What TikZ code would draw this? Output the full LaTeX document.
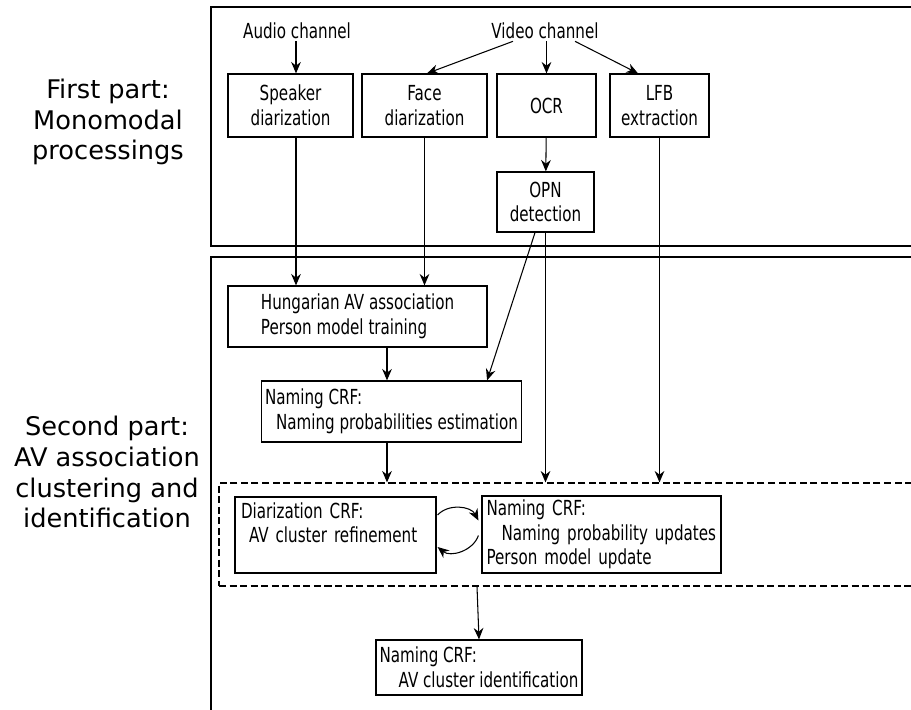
\documentclass[tikz,border=0pt]{standalone}
\usepackage{fontspec}
\setmainfont{DejaVu Sans}
\newfontfamily\narrowfont[FakeStretch=0.73]{DejaVu Sans}
\usetikzlibrary{arrows.meta, calc}
\begin{document}
\begin{tikzpicture}[x = 0.02cm, y = -0.02cm,
		>={Stealth[length=6.5pt, width=5.5pt]},
		every path/.style = {line width=0.6pt},
		box/.style = {draw, line width=0.7pt, inner sep=2pt, font=\narrowfont\fontsize{11.8}{14}\selectfont},
		chan/.style = {inner sep=1pt, font=\narrowfont\fontsize{11.8}{14}\selectfont},
		part/.style = {align=center, font=\fontsize{14.6}{17.6}\selectfont},
		frame/.style = {draw, line width=1.1pt}]
		\useasboundingbox (0, 0) rectangle (911, 709);
		\draw[frame] (211, 7) rectangle (920, 246);
		\draw[frame] (211, 257) rectangle (920, 730);
		\node[part] (first) at (108, 122) {First part:\\Monomodal\\processings};
		\node[part] (second) at (107, 472) {Second part:\\AV association\\clustering and\\identification};
		\node[chan] (audio) at (297, 31) {Audio channel};
		\node[chan] (video) at (545, 31) {Video channel};
		\node[box, align=center, minimum width=2.5cm, minimum height=1.26cm] (spk) at (290.5, 105.5) {Speaker\\diarization};
		\node[box, align=center, minimum width=2.5cm, minimum height=1.26cm] (face) at (424.5, 105.5) {Face\\diarization};
		\node[box, align=center, minimum width=1.98cm, minimum height=1.26cm] (ocr) at (546.5, 105.5) {OCR};
		\node[box, align=center, minimum width=1.98cm, minimum height=1.26cm] (lfb) at (659.5, 105.5) {LFB\\extraction};
		\node[box, align=center, minimum width=1.94cm, minimum height=1.2cm] (opn) at (545.5, 202) {OPN\\detection};
		\node[box, align=left, minimum width=5.18cm, minimum height=1.22cm] (hung) at (357.5, 316.5) {Hungarian AV association\\Person model training};
		\node[box, align=left, minimum width=5.18cm, minimum height=1.22cm] (nest) at (391.5, 411.5) {Naming CRF:\\\hspace*{0.22cm}Naming probabilities estimation};
		\node[draw, dashed, dash pattern=on 4pt off 2pt, line width=0.7pt, minimum width=14.02cm, minimum height=2.06cm] (loop) at (569.5, 534.5) {};
		\node[box, align=left, text width=3.78cm, inner xsep=0.12cm, minimum width=4.02cm, minimum height=1.52cm] (dcrf) at (335.5, 535) {Diarization CRF:\\\hspace*{0.16cm}AV cluster refinement\\\mbox{}};
		\node[box, align=left, text width=4.6cm, inner xsep=0.05cm, minimum width=4.78cm, minimum height=1.54cm] (nupd) at (601.5, 534.5) {Naming CRF:\\\hspace*{0.3cm}Naming probability updates\\Person model update};
		\node[box, align=left, minimum width=4.08cm, minimum height=1.1cm] (nid) at (479, 667.5) {Naming CRF:\\\hspace*{0.38cm}AV cluster identification};
		\draw[->] (audio.south -| 296, 0) -- (spk.north -| 296, 0);
		\draw[->] ($(video.south)+(-32, 0)$) -- ($(face.north)+(2.5, 0)$);
		\draw[->] (video.south -| ocr.north) -- (ocr.north);
		\draw[->] ($(video.south)+(30, 0)$) -- ($(lfb.north)+(-21.5, 0)$);
		\draw[->] (ocr) -- (opn);
		\draw[->] (spk.south -| 296, 0) -- (hung.north -| 296, 0);
		\draw[->] (face.south) -- (face.south |- hung.north);
		\draw[->] ($(opn.south)+(-10.5, 0)$) -- ($(nest.north east)+(-35, 0)$);
		\draw[->] (hung.south -| 387, 0) -- (nest.north -| 387, 0);
		\draw[->] (nest.south -| 387, 0) -- (loop.north -| 387, 0);
		\draw[->] (opn.south) -- (opn.south |- loop.north);
		\draw[->] (lfb.south) -- (lfb.south |- loop.north);
		\draw[->] ($(dcrf.east)+(1, -20)$) to[bend left=55] ($(nupd.west)+(-3, -14)$);
		\draw[->] ($(nupd.west)+(-3, 1)$) to[bend left=55] ($(dcrf.east)+(1, 12)$);
		\draw[->] (loop.south -| 477, 0) -- (nid.north);
\end{tikzpicture}
\end{document}
